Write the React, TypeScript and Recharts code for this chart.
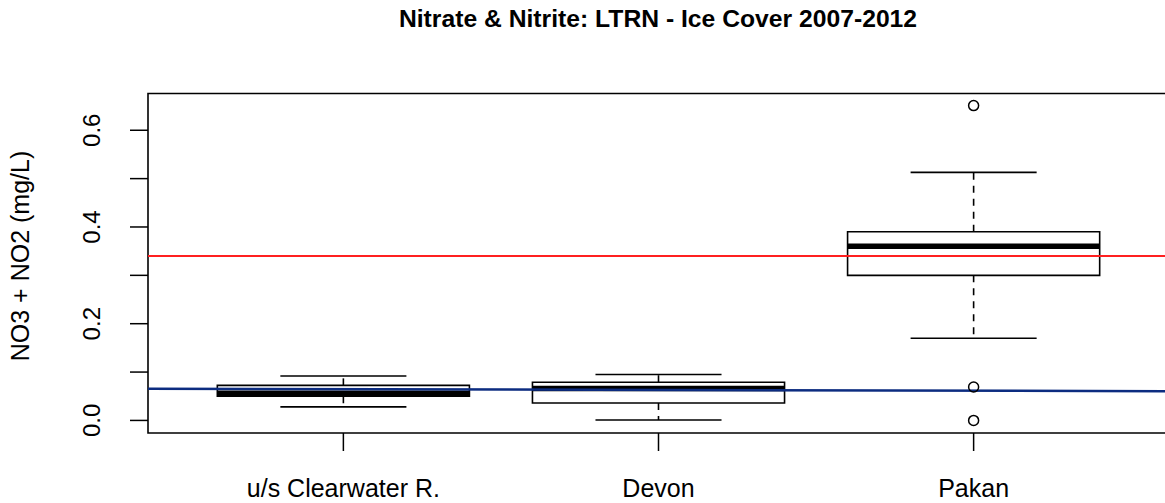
import React from "react";
import {
  ComposedChart,
  XAxis,
  YAxis,
  ReferenceArea,
  ReferenceLine,
  Scatter,
} from "recharts";

// sites along the x axis (positions 1..3)
const sites = ["u/s Clearwater R.", "Devon", "Pakan"];

// box statistics per site, mg/L
const whiskerLow = [0.028, 0.001, 0.17];
const q1 = [0.05, 0.036, 0.3];
const median = [0.056, 0.066, 0.36];
const q3 = [0.0725, 0.079, 0.39];
const whiskerHigh = [0.092, 0.095, 0.513];

// outliers (site index is 1-based)
const outlierSite = [3, 3, 3];
const outlierValue = [0.651, 0.069, 0.0];

// guideline levels: red is flat, blue drifts slightly down across the plot
const redLevel = 0.34;
const blueEnds = [0.0656, 0.0605];

const yTicks = [0, 0.1, 0.2, 0.3, 0.4, 0.5, 0.6];

const FONT = "'Liberation Sans', Arial, sans-serif";
const X_MIN = 0.38;
const X_MAX = 3.62;
const BOX_HALF = 0.4;
const CAP_HALF = 0.2;

const outlierPoints = outlierSite.map((s, i) => ({ x: s, y: outlierValue[i] }));

function XTick(props: any) {
  const { x, y, payload } = props;
  return (
    <text x={x} y={y + 46} textAnchor="middle" fontSize={25} fontFamily={FONT} fill="#000">
      {sites[payload.value - 1]}
    </text>
  );
}

function YTick(props: any) {
  const { x, y, payload } = props;
  const v = payload.value;
  if (Math.round(v * 10) % 2 !== 0) return <g />;
  const tx = x - 30;
  return (
    <text
      x={tx}
      y={y}
      transform={`rotate(-90, ${tx}, ${y})`}
      textAnchor="middle"
      fontSize={24}
      fontFamily={FONT}
      fill="#000"
    >
      {v.toFixed(1)}
    </text>
  );
}

export default function App() {
  return (
    <div
      style={{
        position: "absolute",
        left: 0,
        top: 0,
        width: 1165,
        height: 503,
        overflow: "hidden",
        background: "#fff",
        fontFamily: FONT,
      }}
    >
      <div
        style={{
          position: "absolute",
          left: 658,
          top: 7,
          transform: "translateX(-50%)",
          whiteSpace: "nowrap",
          fontSize: 24.7,
          lineHeight: "24.7px",
          fontWeight: "bold",
          color: "#000",
        }}
      >
        Nitrate &amp; Nitrite: LTRN - Ice Cover 2007-2012
      </div>
      <div
        style={{
          position: "absolute",
          left: 33,
          top: 256,
          transform: "rotate(-90deg)",
          transformOrigin: "0 0",
        }}
      >
        <div
          style={{
            transform: "translate(-50%, -100%)",
            whiteSpace: "nowrap",
            fontSize: 25,
            lineHeight: "25px",
            color: "#000",
          }}
        >
          NO3 + NO2 (mg/L)
        </div>
      </div>
      <div style={{ position: "absolute", left: 0, top: 0 }}>
        <ComposedChart
          width={1175}
          height={503}
          margin={{ top: 93.5, right: 6, bottom: 0, left: 0 }}
        >
          <XAxis
            type="number"
            dataKey="x"
            domain={[X_MIN, X_MAX]}
            ticks={[1, 2, 3]}
            allowDataOverflow
            height={70}
            tickSize={18}
            tickMargin={0}
            axisLine={false}
            tickLine={{ stroke: "#000", strokeWidth: 1.5 }}
            tick={<XTick />}
          />
          <YAxis
            type="number"
            dataKey="y"
            domain={[-0.026, 0.676]}
            ticks={yTicks}
            allowDataOverflow
            width={148}
            tickSize={18}
            tickMargin={0}
            axisLine={false}
            tickLine={{ stroke: "#000", strokeWidth: 1.5 }}
            tick={<YTick />}
          />

          {sites.map((s, i) => (
            <ReferenceLine
              key={`wl-${s}`}
              segment={[
                { x: i + 1, y: q1[i] },
                { x: i + 1, y: whiskerLow[i] },
              ]}
              stroke="#000"
              strokeWidth={1.6}
              strokeDasharray="7 6"
            />
          ))}
          {sites.map((s, i) => (
            <ReferenceLine
              key={`wh-${s}`}
              segment={[
                { x: i + 1, y: q3[i] },
                { x: i + 1, y: whiskerHigh[i] },
              ]}
              stroke="#000"
              strokeWidth={1.6}
              strokeDasharray="7 6"
            />
          ))}
          {sites.map((s, i) => (
            <ReferenceLine
              key={`cl-${s}`}
              segment={[
                { x: i + 1 - CAP_HALF, y: whiskerLow[i] },
                { x: i + 1 + CAP_HALF, y: whiskerLow[i] },
              ]}
              stroke="#000"
              strokeWidth={1.6}
            />
          ))}
          {sites.map((s, i) => (
            <ReferenceLine
              key={`ch-${s}`}
              segment={[
                { x: i + 1 - CAP_HALF, y: whiskerHigh[i] },
                { x: i + 1 + CAP_HALF, y: whiskerHigh[i] },
              ]}
              stroke="#000"
              strokeWidth={1.6}
            />
          ))}
          {sites.map((s, i) => (
            <ReferenceArea
              key={`box-${s}`}
              x1={i + 1 - BOX_HALF}
              x2={i + 1 + BOX_HALF}
              y1={q1[i]}
              y2={q3[i]}
              fill="#fff"
              fillOpacity={1}
              stroke="#000"
              strokeWidth={1.6}
            />
          ))}
          {sites.map((s, i) => (
            <ReferenceLine
              key={`med-${s}`}
              segment={[
                { x: i + 1 - BOX_HALF, y: median[i] },
                { x: i + 1 + BOX_HALF, y: median[i] },
              ]}
              stroke="#000"
              strokeWidth={5.5}
            />
          ))}

          <Scatter
            data={outlierPoints}
            dataKey="y"
            isAnimationActive={false}
            shape={(p: any) => (
              <circle cx={p.cx} cy={p.cy} r={5} fill="none" stroke="#000" strokeWidth={1.5} />
            )}
          />

          <ReferenceLine y={redLevel} stroke="#ff2020" strokeWidth={2} />
          <ReferenceLine
            segment={[
              { x: X_MIN, y: blueEnds[0] },
              { x: X_MAX, y: blueEnds[1] },
            ]}
            stroke="#0c2c80"
            strokeWidth={2.5}
          />

          <ReferenceArea
            x1={X_MIN}
            x2={X_MAX}
            y1={-0.026}
            y2={0.676}
            fill="none"
            stroke="#000"
            strokeWidth={1.6}
            ifOverflow="visible"
          />
        </ComposedChart>
      </div>
    </div>
  );
}
